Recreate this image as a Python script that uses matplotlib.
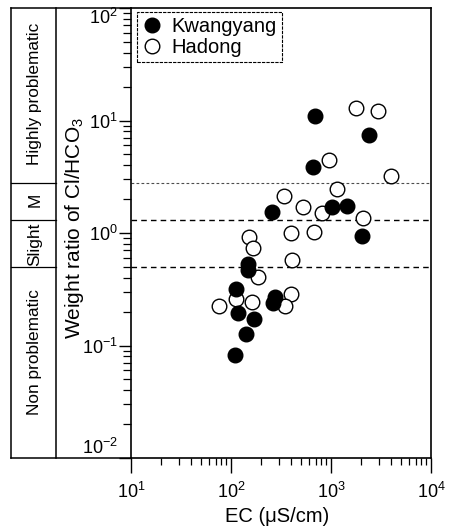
import matplotlib
matplotlib.use("Agg")
import matplotlib.pyplot as plt
import matplotlib.transforms as mtransforms
from matplotlib.lines import Line2D
from matplotlib.ticker import LogLocator, FuncFormatter, NullFormatter
import numpy as np

# ---------------- data ----------------
kw_ec = [692, 2399, 656, 255, 1023, 1445, 2042, 148, 148, 112, 275, 263, 117, 170, 141, 110]
kw_ratio = [11.0, 7.4, 3.86, 1.54, 1.70, 1.74, 0.94, 0.53, 0.47, 0.318, 0.27, 0.239,
            0.195, 0.172, 0.127, 0.082]

hd_ec = [1778, 2931, 962, 3954, 1156, 341, 528, 807, 2104, 398, 676, 151, 165, 410,
         187, 111, 76, 161, 395, 347]
hd_ratio = [12.9, 12.1, 4.46, 3.21, 2.46, 2.13, 1.70, 1.51, 1.36, 1.0, 1.02, 0.92, 0.74,
            0.575, 0.406, 0.259, 0.225, 0.244, 0.287, 0.225]

thresholds = [0.5, 1.3, 2.8]
zone_labels = ["Non problematic", "Slight", "M", "Highly problematic"]
zone_label_pos = [0.0875, 0.8, 1.95, 17.2]

x_ticks = [1e1, 1e2, 1e3, 1e4]
y_ticks = [1e-2, 1e-1, 1e0, 1e1, 1e2]

x_label = "EC (\u03bcS/cm)"
y_label = "Weight ratio of Cl/HCO$_3$"
series_names = ["Kwangyang", "Hadong"]

# ---------------- style ----------------
plt.rcParams["font.family"] = ["Liberation Sans", "DejaVu Sans"]
plt.rcParams["mathtext.fontset"] = "custom"
plt.rcParams["mathtext.rm"] = "Liberation Sans"
plt.rcParams["mathtext.it"] = "Liberation Sans:italic"
plt.rcParams["mathtext.bf"] = "Liberation Sans:bold"
plt.rcParams["mathtext.default"] = "regular"

W, H = 451, 527
fig = plt.figure(figsize=(W / 100, H / 100), dpi=100)

def fx(px):
    return px / W

def fy(py):
    return 1 - py / H

ax_l, ax_r, ax_t, ax_b = 131, 431, 8, 458
ax = fig.add_axes([fx(ax_l), fy(ax_b), fx(ax_r) - fx(ax_l), fy(ax_t) - fy(ax_b)])
ax.set_xscale("log")
ax.set_yscale("log")
ax.set_xlim(x_ticks[0], x_ticks[-1])
ax.set_ylim(y_ticks[0], y_ticks[-1])

for sp in ax.spines.values():
    sp.set_linewidth(1.2)
    sp.set_color("black")

# threshold lines
ax.axhline(thresholds[2], color="0.3", lw=0.8, dashes=(2.5, 2), zorder=1)
ax.axhline(thresholds[1], color="black", lw=1.0, dashes=(4, 3), zorder=1)
ax.axhline(thresholds[0], color="black", lw=1.0, dashes=(4, 3), zorder=1)

# data
ax.plot(hd_ec, hd_ratio, "o", ls="none", ms=10.5, mfc="white", mec="black", mew=1.0,
        label=series_names[1], zorder=3)
ax.plot(kw_ec, kw_ratio, "o", ls="none", ms=10.5, mfc="black", mec="black", mew=1.0,
        label=series_names[0], zorder=4)

# ticks
fmt = FuncFormatter(lambda v, p: r"$\mathregular{10^{%d}}$" % int(round(np.log10(v))))
ax.set_xticks(x_ticks)
ax.set_yticks(y_ticks)
ax.xaxis.set_minor_locator(LogLocator(base=10, subs=np.arange(2, 10), numticks=20))
ax.yaxis.set_minor_locator(LogLocator(base=10, subs=np.arange(2, 10), numticks=20))
ax.xaxis.set_major_formatter(fmt)
ax.yaxis.set_major_formatter(fmt)
ax.xaxis.set_minor_formatter(NullFormatter())
ax.yaxis.set_minor_formatter(NullFormatter())
ax.tick_params(axis="x", which="major", direction="out", length=10.5, width=1.0,
               labelsize=13, pad=7, top=False)
ax.tick_params(axis="x", which="minor", direction="out", length=4.8, width=0.9, top=False)
ax.tick_params(axis="y", which="major", direction="out", length=8.5, width=1.0,
               labelsize=13, pad=1, right=False)
ax.tick_params(axis="y", which="minor", direction="out", length=5.5, width=0.9, right=False)

ymaj = ax.yaxis.get_major_ticks()
ymaj[0].label1.set_verticalalignment("bottom")
ymaj[-1].label1.set_verticalalignment("top")

# legend
handles, labels = ax.get_legend_handles_labels()
order = [labels.index(n) for n in series_names]
leg = ax.legend([handles[i] for i in order], [labels[i] for i in order],
                loc="upper left", bbox_to_anchor=(6 / 300, 1 - 4 / 450),
                borderaxespad=0, fontsize=14.5, frameon=True, fancybox=False,
                framealpha=1, edgecolor="black", numpoints=1, handlelength=1.0,
                handletextpad=0.45, labelspacing=0.1, borderpad=0.25)
leg.get_frame().set_linewidth(0.8)
leg.get_frame().set_linestyle((0, (3, 1)))

# axis labels
fig.text(fx(277.5), fy(516), x_label, ha="center", va="center", fontsize=14.5)
fig.text(fx(74), fy(228), y_label, ha="center", va="center", rotation=90, fontsize=15)

# left classification panel
blend = mtransforms.blended_transform_factory(fig.transFigure, ax.transData)
lw_box = 1.1
fig.add_artist(Line2D([fx(11), fx(ax_l)], [fy(ax_t), fy(ax_t)], color="black", lw=lw_box,
                      transform=fig.transFigure))
fig.add_artist(Line2D([fx(11), fx(ax_l)], [fy(ax_b), fy(ax_b)], color="black", lw=lw_box,
                      transform=fig.transFigure))
fig.add_artist(Line2D([fx(11), fx(11)], [fy(ax_t), fy(ax_b)], color="black", lw=lw_box,
                      transform=fig.transFigure))
fig.add_artist(Line2D([fx(56), fx(56)], [fy(ax_t), fy(ax_b)], color="black", lw=lw_box,
                      transform=fig.transFigure))
for t in thresholds:
    fig.add_artist(Line2D([fx(11), fx(56)], [t, t], color="black", lw=0.9, transform=blend))
for lab, pos in zip(zone_labels, zone_label_pos):
    fig.text(fx(35), pos, lab, transform=blend, rotation=90, ha="center", va="center",
             fontsize=12.4)

fig.savefig("out.png", dpi=100)
